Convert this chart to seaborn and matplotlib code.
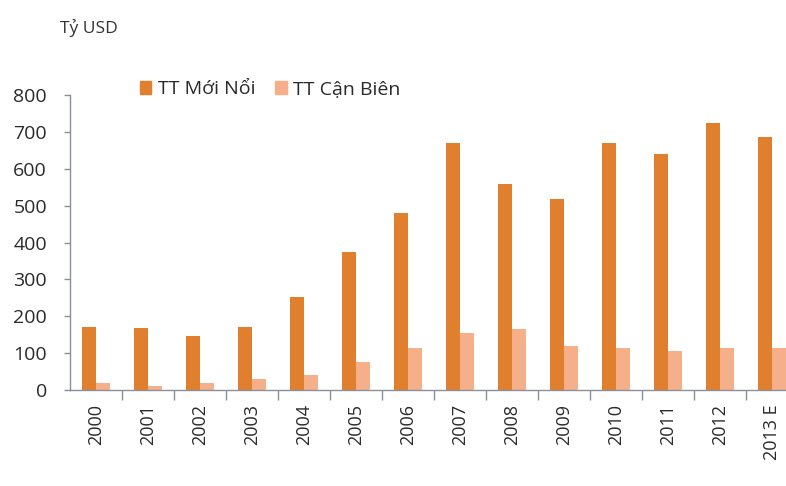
import matplotlib
matplotlib.use("Agg")
import matplotlib.pyplot as plt
from matplotlib.ticker import FixedLocator
import seaborn as sns
import pandas as pd

# Annual flows, billion USD
years = ["2000", "2001", "2002", "2003", "2004", "2005", "2006",
         "2007", "2008", "2009", "2010", "2011", "2012", "2013 E"]
emerging = [171, 168, 146, 171, 252, 374, 480, 669, 558, 518, 669, 640, 724, 686]
frontier = [20, 12, 18, 30, 40, 76, 114, 154, 166, 120, 114, 107, 114, 114]
series_names = ["TT Mới Nổi", "TT Cận Biên"]
y_ticks = [0, 100, 200, 300, 400, 500, 600, 700, 800]

df = pd.DataFrame({
    "year": years * 2,
    "value": emerging + frontier,
    "series": [series_names[0]] * len(years) + [series_names[1]] * len(years),
})

sns.set_theme(style="white")
plt.rcParams["font.family"] = ["Open Sans", "DejaVu Sans"]

W, H = 786, 486
fig = plt.figure(figsize=(W / 100, H / 100), dpi=100)
ax = fig.add_axes([70 / W, (H - 390) / H, (W - 70) / W, 295 / H])

palette = {series_names[0]: "#E07F2E", series_names[1]: "#F5B08A"}
sns.barplot(data=df, x="year", y="value", hue="series", palette=palette,
            width=0.54, gap=0, saturation=1, linewidth=0, ax=ax, legend=False)

ax.set_ylim(0, 800)
ax.set_xlim(-0.5, -0.5 + (W - 70) / 52)
ax.set_xlabel("")
ax.set_ylabel("")

for s in ["top", "right"]:
    ax.spines[s].set_visible(False)
for s in ["left", "bottom"]:
    ax.spines[s].set_color("#8A8F99")
    ax.spines[s].set_linewidth(1.0)

ax.set_yticks(y_ticks)
ax.tick_params(axis="y", which="major", left=True, length=4, width=1,
               color="#8A8F99", pad=12.5, labelsize=14, labelcolor="#2A2A2A")
ax.tick_params(axis="x", which="major", bottom=False, length=0, pad=10,
               labelsize=13, labelcolor="#2A2A2A", labelrotation=90)
ax.xaxis.set_minor_locator(FixedLocator([i + 0.5 for i in range(len(years))]))
ax.tick_params(axis="x", which="minor", bottom=True, length=7, width=1,
               color="#8A8F99")
for lbl in ax.get_xticklabels():
    lbl.set_verticalalignment("top")

# legend
handles = [plt.Rectangle((0, 0), 1, 1, color=palette[n]) for n in series_names]
fig.legend(handles, series_names, loc="upper left",
           bbox_to_anchor=(122 / W, 1 - 63 / H), ncol=2, frameon=False,
           fontsize=14, handlelength=0.6, handleheight=0.6,
           handletextpad=0.35, columnspacing=1.0, labelcolor="#2A2A2A")

fig.text(60 / W, 1 - 28 / H, "Tỷ USD", fontsize=12.5, color="#333333",
         va="center", ha="left")

fig.savefig("out.png", dpi=100)
